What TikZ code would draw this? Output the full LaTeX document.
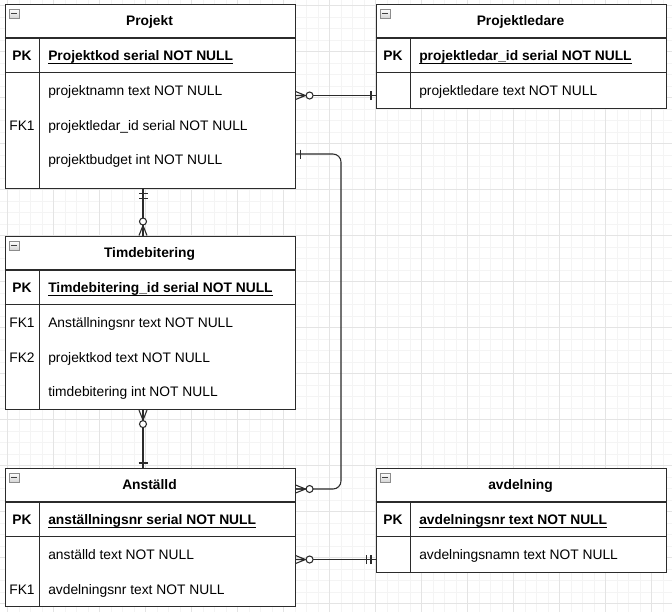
\documentclass[tikz,border=0pt]{standalone}
\usepackage{fontspec}
\setmainfont{Liberation Sans}
\definecolor{erline}{HTML}{2B2B2B}
\definecolor{gridminor}{HTML}{F4F4F4}
\definecolor{gridmajor}{HTML}{E4E4E4}
\definecolor{iconedge}{HTML}{8C8C8C}
\newcommand{\erfont}{\fontsize{10.35pt}{12pt}\selectfont}
\newcommand{\keyfield}[1]{\underline{\smash{\textbf{#1}}}}
\tikzset{
  minorline/.style={gridminor, line width=0.75pt},
  majorline/.style={gridmajor, line width=0.75pt},
  entity/.style={draw=erline, line width=0.8pt, fill=white, rectangle, inner sep=0pt, anchor=north west, minimum width=217.5pt},
  tableline/.style={erline, line width=0.8pt},
  relline/.style={erline, line width=0.8pt},
  entitytitle/.style={font=\erfont\bfseries, inner sep=0pt, text height=7.4pt, text depth=0pt},
  keylabel/.style={font=\erfont\bfseries, inner sep=0pt, text height=7.4pt, text depth=0pt},
  fklabel/.style={font=\erfont, inner sep=0pt, text height=7.4pt, text depth=0pt},
  fieldtext/.style={font=\erfont, anchor=west, inner sep=0pt, text height=7.4pt, text depth=0pt},
  zeromany/.pic={
    \draw[relline] (0,-4) -- (10,0) -- (0,4) (0,0) -- (10,0);
    \draw[relline, fill=white] (14,0) circle[radius=3.5];
  },
  mandone/.pic={\draw[relline] (4.5,-4.5) -- (4.5,4.5);},
  mandtwo/.pic={\draw[relline] (4.5,-4.5) -- (4.5,4.5) (9,-4.5) -- (9,4.5);},
  minusicon/.pic={
    \draw[iconedge, top color=white, bottom color=gray!35, line width=0.5pt] (5,5.5) rectangle (14.5,15);
    \draw[black!75, line width=1.1pt] (6.8,10.25) -- (12.7,10.25);
  }
}

\begin{document}
\begin{tikzpicture}[x=0.75pt, y=-0.75pt]
  \fill[white] (0,0) rectangle (672,612);
  \useasboundingbox (0,0) rectangle (672,612);
  % grid
  \foreach \i in {0,...,58} \draw[minorline] ({-3.8+11.5*\i},0) -- ++(0,612);
  \foreach \i in {0,...,53} \draw[minorline] (0,{-5.8+11.5*\i}) -- ++(672,0);
  \foreach \i in {0,...,14} \draw[majorline] ({7.7+46*\i},0) -- ++(0,612);
  \foreach \i in {0,...,13} \draw[majorline] (0,{5.7+46*\i}) -- ++(672,0);

  % tables
  \node[entity, minimum height=138.375pt] (projekt) at (4.5,3.5) {};
  \node[entity, minimum height=78pt] (ledare) at (375.5,3.5) {};
  \node[entity, minimum height=130.125pt] (timdeb) at (4.5,235.5) {};
  \node[entity, minimum height=103.875pt] (anstalld) at (4.5,467.5) {};
  \node[entity, minimum height=78pt] (avdelning) at (375.5,467.5) {};
  \foreach \ent in {projekt,ledare,timdeb,anstalld,avdelning}{
    \draw[tableline] ([yshift=-25.875pt]\ent.north west) -- ([yshift=-25.875pt]\ent.north east)
      ([yshift=-51.75pt]\ent.north west) -- ([yshift=-51.75pt]\ent.north east)
      ([shift={(26.25pt,-25.875pt)}]\ent.north west) -- ([xshift=26.25pt]\ent.south west);
    \pic at (\ent.north west) {minusicon};
  }

  \node[entitytitle] (projekt-title) at (149.5,21) {Projekt};
  \node[keylabel] (projekt-pk) at (22,56) {PK};
  \node[fieldtext] (projekt-kod) at (48,56) {\keyfield{Projektkod serial NOT NULL}};
  \node[fieldtext] (projekt-namn) at (48,91) {projektnamn text NOT NULL};
  \node[fklabel] (projekt-fk1) at (22,125.5) {FK1};
  \node[fieldtext] (projekt-ledar) at (48,125.5) {projektledar\_id serial NOT NULL};
  \node[fieldtext] (projekt-budget) at (48,160) {projektbudget int NOT NULL};

  \node[entitytitle] (ledare-title) at (520.5,21) {Projektledare};
  \node[keylabel] (ledare-pk) at (393,56) {PK};
  \node[fieldtext] (ledare-id) at (419,56) {\keyfield{projektledar\_id serial NOT NULL}};
  \node[fieldtext] (ledare-namn) at (419,91) {projektledare text NOT NULL};

  \node[entitytitle] (timdeb-title) at (149.5,253) {Timdebitering};
  \node[keylabel] (timdeb-pk) at (22,288) {PK};
  \node[fieldtext] (timdeb-id) at (48,288) {\keyfield{Timdebitering\_id serial NOT NULL}};
  \node[fklabel] (timdeb-fk1) at (22,323) {FK1};
  \node[fieldtext] (timdeb-anst) at (48,323) {Anställningsnr text NOT NULL};
  \node[fklabel] (timdeb-fk2) at (22,357.5) {FK2};
  \node[fieldtext] (timdeb-kod) at (48,357.5) {projektkod text NOT NULL};
  \node[fieldtext] (timdeb-tid) at (48,392) {timdebitering int NOT NULL};

  \node[entitytitle] (anstalld-title) at (149.5,485) {Anställd};
  \node[keylabel] (anstalld-pk) at (22,520) {PK};
  \node[fieldtext] (anstalld-nr) at (48,520) {\keyfield{anställningsnr serial NOT NULL}};
  \node[fieldtext] (anstalld-namn) at (48,555) {anställd text NOT NULL};
  \node[fklabel] (anstalld-fk1) at (22,589.5) {FK1};
  \node[fieldtext] (anstalld-avd) at (48,589.5) {avdelningsnr text NOT NULL};

  \node[entitytitle] (avdelning-title) at (520.5,485) {avdelning};
  \node[keylabel] (avdelning-pk) at (393,520) {PK};
  \node[fieldtext] (avdelning-nr) at (419,520) {\keyfield{avdelningsnr text NOT NULL}};
  \node[fieldtext] (avdelning-namn) at (419,555) {avdelningsnamn text NOT NULL};

  % relations
  \coordinate (bend) at (341,489);
  \draw[relline] (projekt.east |- 0,95.5) -- (ledare.west |- 0,95.5);
  \draw[relline, rounded corners=6pt] (projekt.east |- 0,154) -| (bend) -- (anstalld.east |- bend);
  \draw[relline] (projekt.south -| 143,0) -- (timdeb.north -| 143,0);
  \draw[relline] (timdeb.south -| 143,0) -- (anstalld.north -| 143,0);
  \draw[relline] (anstalld.east |- 0,559.5) -- (avdelning.west |- 0,559.5);
  \pic at (projekt.east |- 0,95.5) {zeromany};
  \pic[rotate=180] at (ledare.west |- 0,95.5) {mandone};
  \pic at (projekt.east |- 0,154) {mandone};
  \pic at (anstalld.east |- bend) {zeromany};
  \pic[rotate=-90] at (projekt.south -| 143,0) {mandtwo};
  \pic[rotate=90] at (timdeb.north -| 143,0) {zeromany};
  \pic[rotate=-90] at (timdeb.south -| 143,0) {zeromany};
  \pic[rotate=90] at (anstalld.north -| 143,0) {mandone};
  \pic at (anstalld.east |- 0,559.5) {zeromany};
  \pic[rotate=180] at (avdelning.west |- 0,559.5) {mandtwo};
\end{tikzpicture}
\end{document}
